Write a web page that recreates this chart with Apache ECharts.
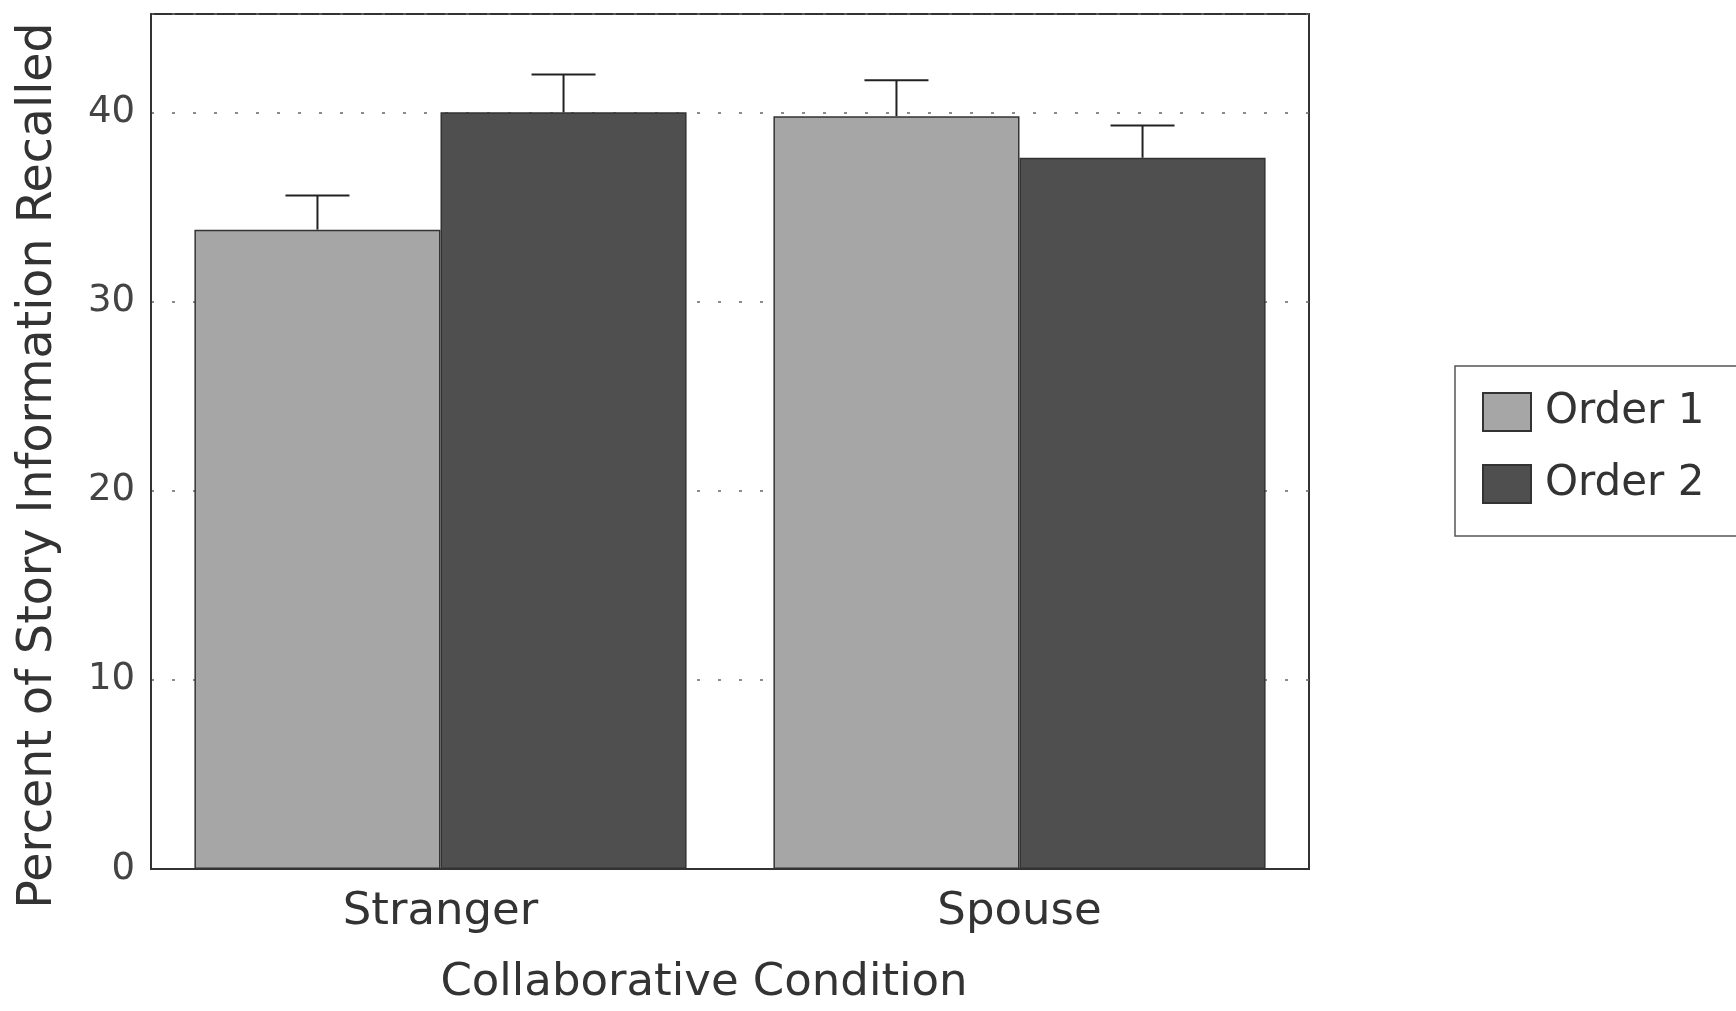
<!DOCTYPE html>
<html>
<head>
<meta charset="utf-8">
<script src="https://cdn.jsdelivr.net/npm/echarts@6/dist/echarts.min.js"></script>
<style>
html,body{margin:0;padding:0;background:#fff;}
#chart{width:1736px;height:1011px;}
</style>
</head>
<body>
<div id="chart"></div>
<script>
const categories = ['Stranger', 'Spouse'];
const seriesNames = ['Order 1', 'Order 2'];
const order1 = [33.8, 39.8];
const order2 = [40.0, 37.6];
const order1Err = [1.8, 1.9];
const order2Err = [2.0, 1.7];
const yTicks = [0, 10, 20, 30, 40];

const FONT = 'DejaVu Sans';
const chart = echarts.init(document.getElementById('chart'));

function errSeries(name, means, errs, sign) {
  return {
    type: 'custom',
    name: name + ' error',
    z: 5,
    silent: true,
    data: means.map((m, i) => [i, m, m + errs[i]]),
    renderItem(params, api) {
      const band = api.size([1, 0])[0];
      const bw = band * 0.85 / 2;
      const base = api.coord([api.value(0), api.value(1)]);
      const top = api.coord([api.value(0), api.value(2)]);
      const x = base[0] + sign * bw / 2;
      const cap = 32;
      const style = { stroke: '#222', lineWidth: 2 };
      return {
        type: 'group',
        children: [
          { type: 'line', shape: { x1: x, y1: base[1], x2: x, y2: top[1] }, style },
          { type: 'line', shape: { x1: x - cap, y1: top[1], x2: x + cap, y2: top[1] }, style }
        ]
      };
    }
  };
}

chart.setOption({
  animation: false,
  backgroundColor: '#fff',
  grid: {
    left: 151, right: 427, top: 14, bottom: 124,
    show: true, borderColor: '#333', borderWidth: 2, backgroundColor: 'transparent'
  },
  legend: {
    data: seriesNames,
    orient: 'vertical',
    left: 1455, top: 366,
    padding: [25, 80, 31, 27],
    icon: 'rect',
    itemWidth: 48, itemHeight: 38, itemGap: 30,
    borderColor: '#555', borderWidth: 1.5,
    backgroundColor: '#fff',
    textStyle: { fontFamily: FONT, fontSize: 42, color: '#333', lineHeight: 38, padding: [0, 0, 0, 9] }
  },
  xAxis: {
    type: 'category',
    data: categories,
    name: 'Collaborative Condition',
    nameLocation: 'middle',
    nameGap: 92,
    nameTextStyle: { fontFamily: FONT, fontSize: 45, color: '#333', padding: [0, 52, 0, 0] },
    axisLine: { show: true, lineStyle: { color: '#333', width: 2 } },
    axisTick: { show: false },
    axisLabel: { fontFamily: FONT, fontSize: 45, color: '#333', margin: 21 },
    splitLine: { show: false }
  },
  yAxis: {
    type: 'value',
    min: 0, max: 45.2, interval: 10,
    name: 'Percent of Story Information Recalled',
    nameLocation: 'middle',
    nameGap: 88,
    nameTextStyle: { fontFamily: FONT, fontSize: 47.5, color: '#333', padding: [0, 48, 0, 0] },
    axisLine: { show: true, lineStyle: { color: '#333', width: 2 } },
    axisTick: { show: false },
    axisLabel: {
      fontFamily: FONT, fontSize: 37, color: '#444', margin: 16,
      formatter: v => (yTicks.indexOf(v) >= 0 ? String(v) : '')
    },
    splitLine: { show: true, lineStyle: { color: '#666', width: 1.5, type: [3, 18] } }
  },
  series: [
    {
      type: 'bar', name: seriesNames[0], data: order1,
      barGap: '0%', barCategoryGap: '15%',
      itemStyle: { color: '#a6a6a6', borderColor: '#333', borderWidth: 1.5 }
    },
    {
      type: 'bar', name: seriesNames[1], data: order2,
      barGap: '0%', barCategoryGap: '15%',
      itemStyle: { color: '#4f4f4f', borderColor: '#333', borderWidth: 1.5 }
    },
    errSeries(seriesNames[0], order1, order1Err, -1),
    errSeries(seriesNames[1], order2, order2Err, 1)
  ]
});
</script>
</body>
</html>
